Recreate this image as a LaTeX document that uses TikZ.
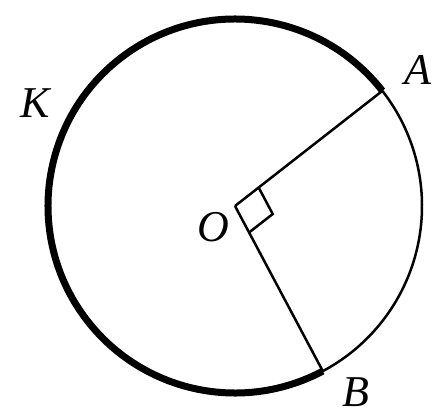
\documentclass[tikz,border=0pt]{standalone}
\usepackage{fontspec}
\setmainfont{Liberation Serif}
\usetikzlibrary{calc}
\begin{document}
\begin{tikzpicture}[x=1pt, y=1pt,
  majorarc/.style={line width=7pt},
  minorarc/.style={line width=2.5pt},
  seg/.style={line width=2.5pt},
  lbl/.style={font=\fontsize{44}{44}\selectfont\itshape, inner sep=0pt},
]
\useasboundingbox (0,0) rectangle (438,415);

% ---- centre and points on the circle ----
\coordinate (O) at (235,209);
\coordinate (A) at ($(O)+(38:187)$);
\coordinate (B) at ($(O)+(-62:187)$);

% ---- arcs: thick major arc AKB, thin minor arc AB ----
\draw[majorarc] (A) arc[start angle=38, end angle=298, radius=187];
\draw[minorarc] (B) arc[start angle=-62, end angle=38, radius=187];

% ---- radii ----
\draw[seg] (O) -- (A);
\draw[seg] (O) -- (B);

% ---- right angle mark ----
\draw[seg] ($(O)+(38:30)$) -- ($(O)+(38:30)+(-62:30)$) -- ($(O)+(-62:30)$);

% ---- labels ----
\node[lbl] (lblK) at (35,312) {K};
\node[lbl] (lblA) at (418,345) {A};
\node[lbl] (lblB) at (356,23) {B};
\node[lbl] (lblO) at (213,188) {O};
\end{tikzpicture}
\end{document}
